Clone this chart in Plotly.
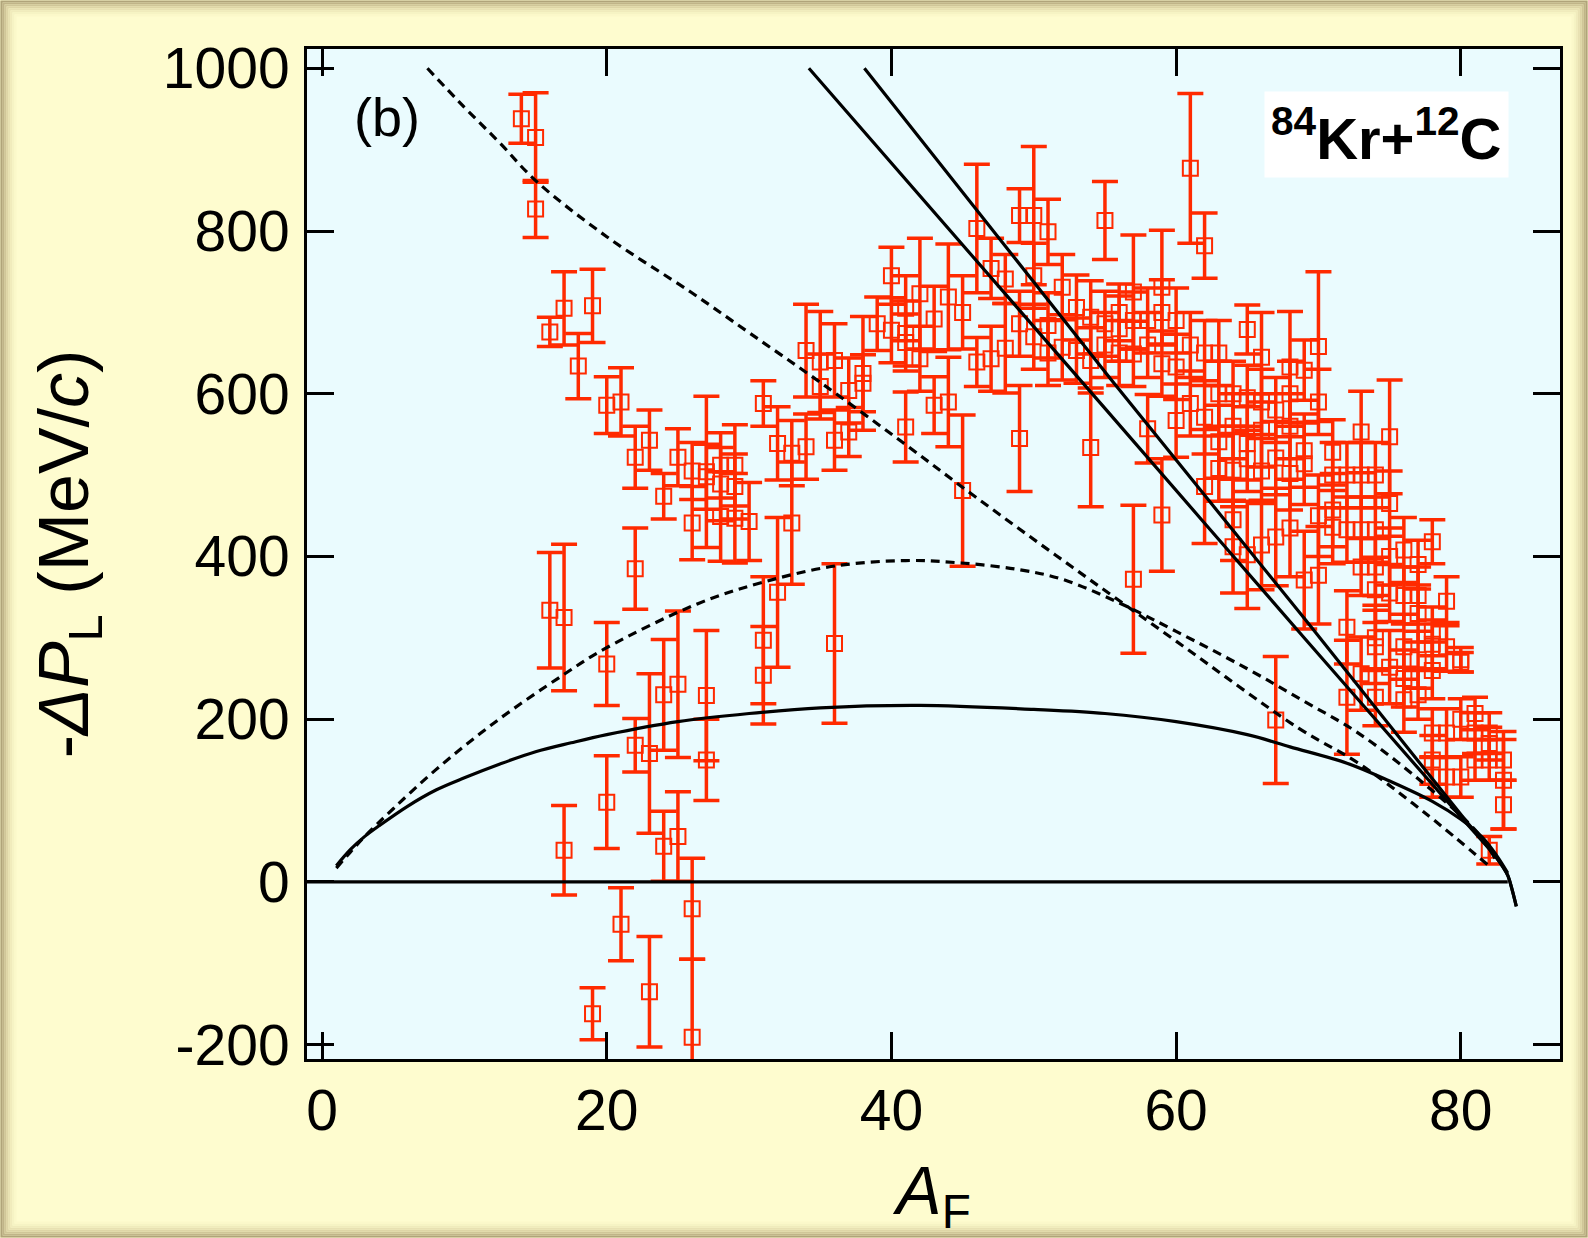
import plotly.graph_objects as go

# ---------------- data ----------------
mass_A = [14, 15, 16, 17, 18, 19, 20, 21, 22, 23, 24, 25, 26, 27, 28, 29, 30,
          31, 32, 33, 34, 35, 36, 37, 38, 39, 40, 41, 42, 43, 44, 45, 46, 47,
          48, 49, 50, 51, 52, 53, 54, 55, 56, 57, 58, 59, 60, 61, 62, 63, 64,
          65, 66, 67, 68, 69, 70, 71, 72, 73, 74, 75, 76, 77, 78, 79, 80, 81,
          82, 83]
dPL_groups = [
    [938], [915, 827], [676, 334], [705, 325, 39], [634], [708, -162],
    [586, 268, 98], [590, -52], [522, 385, 168], [543, 158, -135],
    [474, 230, 44], [522, 243, 56], [441, 505, -33, -191],
    [504, 498, 229, 150], [489, 449, 512], [512, 447, 486], [443],
    [588, 297, 254], [539, 356], [527, 441], [653, 535], [639, 609],
    [641, 543, 293], [553, 604], [625, 613], [686], [678, 745],
    [559, 674, 705, 663], [723, 643], [692, 586], [719, 590], [700, 481],
    [803, 639], [754, 643], [741, 656], [819, 686, 545], [819, 745, 670],
    [799, 684, 650], [731, 657], [706, 653], [694, 641, 534],
    [813, 686, 660], [680, 650, 700], [725, 372, 649, 690], [557, 690, 660],
    [731, 451, 637, 700], [567, 633, 690], [877, 588, 660],
    [782, 486, 571, 650], [541, 508, 600, 650], [412, 445, 506, 600, 560],
    [679, 402, 539, 595, 520], [645, 414, 555, 590, 505], [199, 424, 521, 580],
    [633, 435, 502, 600, 560], [629, 514, 371, 530], [658, 590, 450, 377],
    [528, 457, 436, 500], [227, 313, 500, 433], [553, 256, 500, 433, 387],
    [289, 359, 433, 500, 387, 300, 227], [547, 264, 465, 355, 400],
    [224, 408, 289, 352, 250], [352, 273, 330, 390, 230],
    [418, 308, 292, 260, 183, 150, 129], [289, 345, 183, 129],
    [270, 273, 200, 129], [183, 150, 207], [183, 39, 150, 170], [125, 95, 150],
]
err_groups = [
    [30], [55, 35], [18, 71], [45, 90, 55], [40], [45, 32],
    [35, 51, 57], [42, 45], [38, 50, 33], [37, 98, 68],
    [28, 68, 43], [35, 90, 55], [45, 35, 62, 96],
    [93, 40, 80, 50], [45, 55, 40], [50, 55, 40], [48],
    [28, 78, 60], [45, 92], [40, 75], [57, 40], [62, 40],
    [45, 37, 98], [30, 40], [70, 35], [33], [40, 35],
    [43, 40, 40, 35], [68, 40], [40, 35], [65, 55], [45, 93],
    [79, 30], [37, 40], [30, 55], [33, 40, 65], [85, 40, 40],
    [40, 40, 40], [40, 40], [40, 40], [45, 40, 73],
    [48, 40, 40], [40, 40, 35], [70, 91, 40, 35], [42, 40, 40],
    [70, 69, 40, 40], [45, 40, 40], [92, 40, 40],
    [40, 70, 45, 40], [45, 40, 40, 40], [57, 50, 45, 40, 40],
    [30, 66, 45, 40, 40], [55, 55, 45, 40, 40], [78, 60, 45, 40],
    [68, 60, 45, 40, 40], [37, 50, 60, 45], [92, 40, 50, 60],
    [40, 45, 45, 40], [70, 45, 40, 40], [50, 45, 40, 40, 35],
    [45, 40, 40, 40, 35, 40, 35], [70, 45, 40, 35, 35],
    [40, 40, 40, 35, 35], [35, 35, 35, 30, 30],
    [27, 30, 30, 35, 30, 30, 25], [30, 30, 30, 25],
    [12, 15, 25, 25], [25, 25, 20], [25, 17, 25, 20], [60, 30, 25],
]

# model curves
bell_solid_A = [1, 2, 3, 4, 6, 8, 10, 12.5, 15, 17.5, 20, 25, 30, 35, 42, 50,
                55, 60, 65, 68, 72, 75, 78, 80, 81.5, 82.5, 83.3]
bell_solid_P = [20, 40, 56, 69, 93, 113, 128, 145, 160, 171, 181, 197, 207,
                214, 217, 212, 207, 197, 181, 166, 146, 124, 99, 77, 55, 33, 11]

bell_dash_A = [1, 2, 3, 5, 8, 12.2, 16.9, 19.9, 26.4, 30.9, 35.9, 41, 44.9,
               48.9, 52, 56, 60, 65, 69, 72.8, 77.4, 81.2, 82.6]
bell_dash_P = [17, 37, 56, 90, 138, 197, 254, 287, 342, 368, 388, 395, 392,
               384, 372, 343, 308, 262, 222, 183, 121, 60, 23]

steep_dash_A = [7.4, 10, 12.5, 15, 20, 25.9, 30, 35, 40.8, 46, 52.7, 60,
                68.6, 72.8, 77.4, 82.1]
steep_dash_P = [1000, 952, 908, 862, 793, 725, 675, 614, 540, 472, 387, 296,
                189, 146, 86, 18]

steep1_A = [34.2, 55, 69.1, 80.5, 82.5, 83.3, 83.9]
steep1_P = [1000, 582, 298, 70, 30, 8, -30]
steep2_A = [38.1, 55.4, 69.1, 80.5, 82.5, 83.3, 83.9]
steep2_P = [1000, 618, 322, 72, 30, 8, -30]

zero_A = [-1.1, 83.3]
zero_P = [0, 0]

x_ticks = [0, 20, 40, 60, 80]
y_ticks = [-200, 0, 200, 400, 600, 800, 1000]
y_ticktext = ["-200", "0", "200", "400", "600", "800", "1000"]

# ---------------- figure ----------------
A_flat, P_flat, E_flat = [], [], []
for a, ps, es in zip(mass_A, dPL_groups, err_groups):
    for p, e in zip(ps, es):
        A_flat.append(a)
        P_flat.append(p)
        E_flat.append(e)

RED = "#ff2a00"
fig = go.Figure()
fig.add_trace(go.Scatter(
    x=A_flat, y=P_flat, mode="markers",
    marker=dict(symbol="square-open", size=15, color=RED,
                line=dict(width=2, color=RED)),
    error_y=dict(type="data", array=E_flat, visible=True, color=RED,
                 thickness=3.5, width=13),
    hoverinfo="x+y", showlegend=False))

solid = dict(color="black", width=3.2)
dashed = dict(color="black", width=3.2, dash="9px,6px")
fig.add_trace(go.Scatter(x=zero_A, y=zero_P, mode="lines", line=solid,
                         showlegend=False))
fig.add_trace(go.Scatter(x=bell_solid_A, y=bell_solid_P, mode="lines",
                         line=dict(solid, shape="spline", smoothing=1.0),
                         showlegend=False))
fig.add_trace(go.Scatter(x=bell_dash_A, y=bell_dash_P, mode="lines",
                         line=dict(dashed, shape="spline"), showlegend=False))
fig.add_trace(go.Scatter(x=steep_dash_A, y=steep_dash_P, mode="lines",
                         line=dict(dashed, shape="spline"), showlegend=False))
fig.add_trace(go.Scatter(x=steep1_A, y=steep1_P, mode="lines",
                         line=dict(solid, shape="spline", smoothing=0.6),
                         showlegend=False))
fig.add_trace(go.Scatter(x=steep2_A, y=steep2_P, mode="lines",
                         line=dict(solid, shape="spline", smoothing=0.6),
                         showlegend=False))

W, H = 1588, 1238
ML, MR, MT, MB = 307, 28, 49, 179
PW, PH = W - ML - MR, H - MT - MB

def px2paper(px, py):
    return (px - ML) / PW, 1 - (py - MT) / PH

# vignette border of the page
shapes = []
edge = [(176, 164, 122), (192, 180, 136), (208, 198, 152), (222, 213, 166),
        (232, 225, 178), (240, 235, 188), (246, 243, 196), (251, 248, 202)]
for i, c in enumerate(edge):
    inset = 1.5 + 2 * i
    x0, y1 = px2paper(inset, inset)
    x1, y0 = px2paper(W - inset, H - inset)
    shapes.append(dict(type="rect", xref="paper", yref="paper",
                       x0=x0, x1=x1, y0=y0, y1=y1,
                       line=dict(color="rgb(%d,%d,%d)" % c, width=2.2),
                       fillcolor="rgba(0,0,0,0)", layer="below"))

FONT = "Liberation Sans, Arial, Helvetica, sans-serif"
axis_common = dict(showline=True, linecolor="black", linewidth=3, mirror="ticks",
                   ticks="inside", ticklen=27, tickwidth=2.5, tickcolor="black",
                   showgrid=False, zeroline=False, automargin=False,
                   tickfont=dict(family=FONT, size=57, color="black"))

bx, by = px2paper(387, 117)
kx, ky = px2paper(1386, 135)
fig.update_layout(
    width=W, height=H,
    margin=dict(l=ML, r=MR, t=MT, b=MB, autoexpand=False),
    paper_bgcolor="#fefccf", plot_bgcolor="#eafbfe",
    shapes=shapes,
    xaxis=dict(axis_common, range=[-1.06, 86.97], tickvals=x_ticks,
               ticklabelstandoff=0,
               title=dict(text="<i>A</i><sub>F</sub>",
                          font=dict(family=FONT, size=68, color="black"),
                          standoff=40)),
    yaxis=dict(axis_common, range=[-217.6, 1023.7], tickvals=y_ticks,
               ticktext=y_ticktext, ticklabelstandoff=3,
               title=dict(text="-<i>ΔP</i><sub>L</sub> (MeV/<i>c</i>)",
                          font=dict(family=FONT, size=70, color="black"),
                          standoff=52)),
    annotations=[
        dict(xref="paper", yref="paper", x=bx, y=by, xanchor="center",
             yanchor="middle", text="(b)", showarrow=False,
             font=dict(family=FONT, size=54, color="black")),
        dict(xref="paper", yref="paper", x=kx, y=ky, xanchor="center",
             yanchor="middle",
             text="<b><sup>84</sup>Kr+<sup>12</sup>C</b>", showarrow=False,
             bgcolor="white", borderpad=6,
             font=dict(family=FONT, size=58, color="black")),
    ],
)

fig.write_html("out.html")
